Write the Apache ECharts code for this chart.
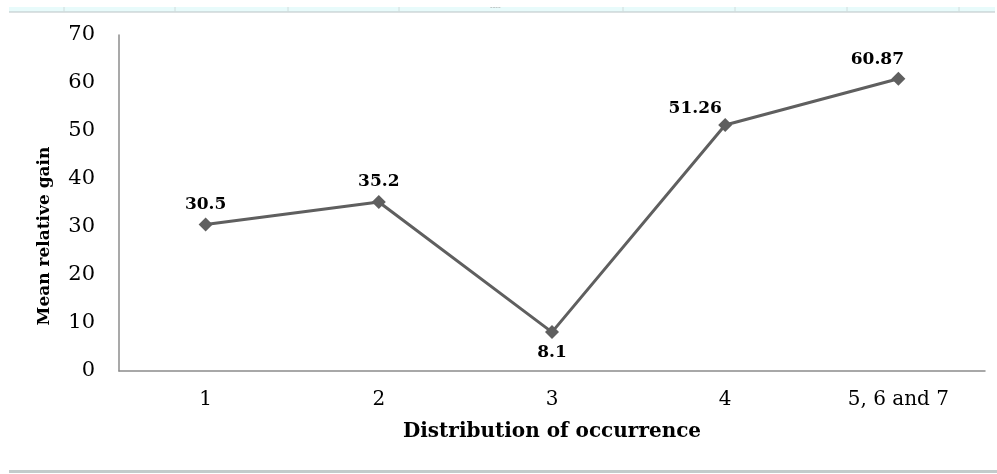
<!DOCTYPE html>
<html>
<head>
<meta charset="utf-8">
<script src="https://cdn.jsdelivr.net/npm/echarts@6/dist/echarts.min.js"></script>
<style>
  html, body { margin: 0; padding: 0; background: #fff; }
  #chart { width: 997px; height: 474px; }
</style>
</head>
<body>
<div id="chart"></div>
<script>
// Mean relative gain by distribution of occurrence
const categories = ['1', '2', '3', '4', '5, 6 and 7'];
const gainValues = [30.5, 35.2, 8.1, 51.26, 60.87];
const yTicks = [0, 10, 20, 30, 40, 50, 60, 70];

const serif = '"DejaVu Serif", "Liberation Serif", serif';

// per-point label placement
const labelPlacement = [
  { position: 'top', offset: [0, 0] },
  { position: 'top', offset: [0, 0] },
  { position: 'bottom', offset: [0, 0] },
  { position: 'top', offset: [-30, 4] },
  { position: 'top', offset: [-21, 1] }
];

const seriesData = gainValues.map((v, i) => ({
  value: v,
  label: { position: labelPlacement[i].position, offset: labelPlacement[i].offset }
}));

// decorative page rules above and below the chart
const topTicks = [64, 175, 288, 399, 623, 735, 847, 959];
const graphics = [
  { type: 'rect', shape: { x: 9, y: 7, width: 986, height: 5 }, style: { fill: '#e8fbfb' }, silent: true },
  { type: 'line', shape: { x1: 9, y1: 12, x2: 995, y2: 12 }, style: { stroke: '#b9c4c6', lineWidth: 1.2 }, silent: true },
  { type: 'rect', shape: { x: 9, y: 470, width: 988, height: 3 }, style: { fill: '#c3cbcb' }, silent: true },
  { type: 'text', x: 490, y: 3, style: { text: '----', fill: '#aaa', font: '8px sans-serif' }, silent: true },
  {
    type: 'text', x: 45, y: 236, rotation: Math.PI / 2,
    style: { text: 'Mean relative gain', fill: '#000', font: 'bold 17px ' + serif, align: 'center', verticalAlign: 'middle' },
    silent: true
  }
].concat(topTicks.map(x => ({
  type: 'line', shape: { x1: x, y1: 7, x2: x, y2: 12 }, style: { stroke: '#d0dcdc', lineWidth: 1 }, silent: true
})));

const chart = echarts.init(document.getElementById('chart'));
chart.setOption({
  backgroundColor: '#ffffff',
  animation: false,
  grid: { left: 119, right: 12, top: 35, bottom: 103 },
  xAxis: {
    type: 'category',
    data: categories,
    boundaryGap: true,
    name: 'Distribution of occurrence',
    nameLocation: 'middle',
    nameGap: 51,
    nameTextStyle: { fontFamily: serif, fontSize: 20, fontWeight: 'bold', color: '#000' },
    axisLine: { lineStyle: { color: '#8c8c8c', width: 1.5 } },
    axisTick: { show: false },
    axisLabel: { fontFamily: serif, fontSize: 20, color: '#000', margin: 19 },
    splitLine: { show: false }
  },
  yAxis: {
    type: 'value',
    min: yTicks[0],
    max: yTicks[yTicks.length - 1],
    interval: yTicks[1] - yTicks[0],
    axisLine: { show: true, lineStyle: { color: '#8c8c8c', width: 1.5 } },
    axisTick: { show: false },
    axisLabel: { fontFamily: serif, fontSize: 21, color: '#000', margin: 24 },
    splitLine: { show: false }
  },
  series: [{
    type: 'line',
    data: seriesData,
    symbol: 'diamond',
    symbolSize: 14,
    itemStyle: { color: '#5f5f5f' },
    lineStyle: { color: '#5f5f5f', width: 3 },
    label: {
      show: true,
      fontFamily: serif,
      fontSize: 17,
      fontWeight: 'bold',
      color: '#000',
      distance: 5
    }
  }],
  graphic: graphics
});
</script>
</body>
</html>
